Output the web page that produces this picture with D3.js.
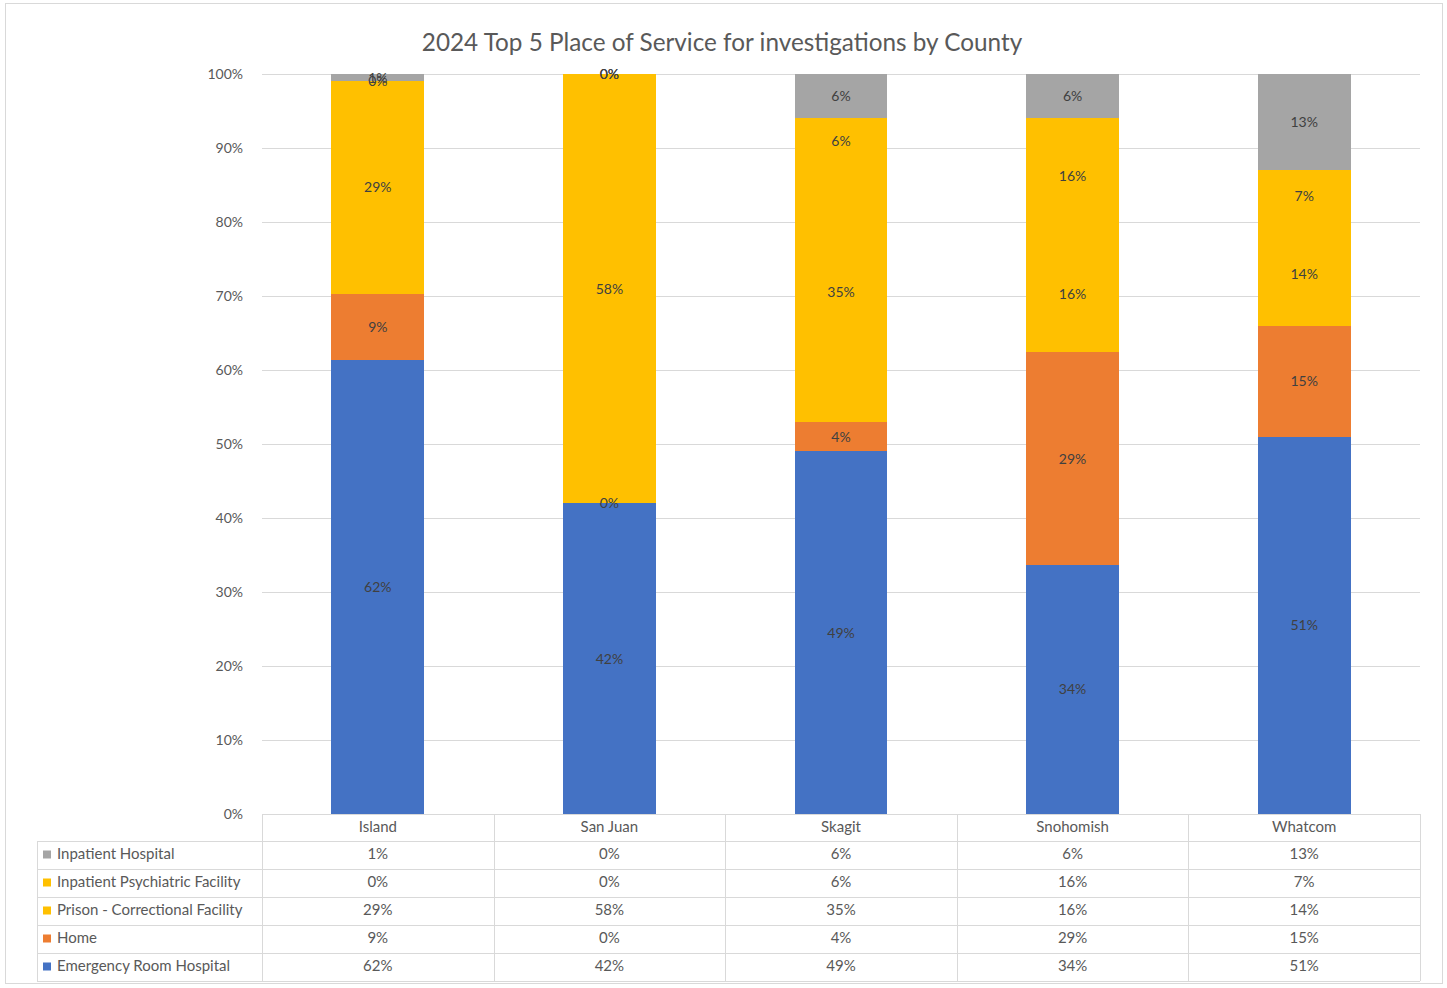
<!DOCTYPE html>
<html>
<head>
<meta charset="utf-8">
<script src="https://cdn.jsdelivr.net/npm/d3@7/dist/d3.min.js"></script>
<style>
  html, body { margin: 0; padding: 0; background: #ffffff; }
  svg { display: block; font-family: Lato, "Open Sans", sans-serif; }
</style>
</head>
<body>
<svg id="chart" width="1447" height="988"></svg>
<script>
// Counties along the x axis
const counties = ["Island", "San Juan", "Skagit", "Snohomish", "Whatcom"];

// Share of investigations (%) for each place of service, per county
const emergencyRoom   = [62, 42, 49, 34, 51];
const home            = [9, 0, 4, 29, 15];
const prison          = [29, 58, 35, 16, 14];
const psychFacility   = [0, 0, 6, 16, 7];
const inpatientHosp   = [1, 0, 6, 6, 13];

// Series, bottom of the stack first
const seriesNames = [
  "Emergency Room Hospital",
  "Home",
  "Prison - Correctional Facility",
  "Inpatient Psychiatric Facility",
  "Inpatient Hospital"
];
const seriesValues = [emergencyRoom, home, prison, psychFacility, inpatientHosp];
const seriesColors = ["#4472C4", "#ED7D31", "#FFC000", "#FFC000", "#A5A5A5"];

const yTicks = [0, 0.1, 0.2, 0.3, 0.4, 0.5, 0.6, 0.7, 0.8, 0.9, 1.0];

const chartTitle = "2024 Top 5 Place of Service for investigations by County";

// ---- layout ----
const svg = d3.select("#chart");
const plotLeft = 262, plotRight = 1420, plotTop = 74, plotBottom = 814;
const tableLeft = 37, rowH = 28, headerH = 27;

// outer chart frame
svg.append("rect")
  .attr("x", 5.5).attr("y", 3.5).attr("width", 1437).attr("height", 980)
  .attr("fill", "#fff").attr("stroke", "#d9d9d9").attr("stroke-width", 1);

svg.append("text")
  .attr("x", 722).attr("y", 51)
  .attr("text-anchor", "middle")
  .attr("font-size", 24.3)
  .attr("fill", "#595959")
  .text(chartTitle);

// build rows for the stack
const rows = counties.map((c, i) => {
  const r = { county: c };
  seriesNames.forEach((s, k) => { r[s] = seriesValues[k][i]; });
  return r;
});

const stack = d3.stack().keys(seriesNames).offset(d3.stackOffsetExpand);
const layers = stack(rows);

const x = d3.scaleBand().domain(counties).range([plotLeft, plotRight]).paddingInner(0.6).paddingOuter(0.3);
const y = d3.scaleLinear().domain([0, 1]).range([plotBottom, plotTop]);

// gridlines + tick labels
const yAxis = d3.axisLeft(y).tickValues(yTicks).tickFormat(d3.format(".0%"))
  .tickSize(-(plotRight - plotLeft)).tickPadding(19);
const gy = svg.append("g").attr("transform", `translate(${plotLeft},0)`).call(yAxis);
gy.select(".domain").remove();
gy.selectAll(".tick line").attr("stroke", "#d9d9d9").attr("stroke-width", 1);
gy.selectAll(".tick text").attr("fill", "#595959").attr("font-size", 14)
  .attr("font-family", "Lato, 'Open Sans', sans-serif");

// bars
const gLayers = svg.append("g").attr("shape-rendering", "crispEdges")
  .selectAll("g").data(layers).join("g")
  .attr("fill", (d, i) => seriesColors[i]);
gLayers.selectAll("rect").data(d => d).join("rect")
  .attr("x", d => x(d.data.county))
  .attr("width", x.bandwidth())
  .attr("y", d => y(d[1]))
  .attr("height", d => y(d[0]) - y(d[1]));

// data labels at segment centres
const gLabels = svg.append("g").selectAll("g").data(layers).join("g");
gLabels.selectAll("text").data(d => d.map(p => ({ p, key: d.key }))).join("text")
  .attr("x", d => x(d.p.data.county) + x.bandwidth() / 2)
  .attr("y", d => y((d.p[0] + d.p[1]) / 2))
  .attr("dy", "0.35em")
  .attr("text-anchor", "middle")
  .attr("font-size", 14)
  .attr("fill", "#404040")
  .text(d => d.p.data[d.key] + "%");

// ---- data table ----
const colW = (plotRight - plotLeft) / counties.length;
const tableTop = plotBottom + headerH;
const tableRows = seriesNames.slice().reverse();
const gridColor = "#d9d9d9";
const tg = svg.append("g").attr("stroke", gridColor).attr("stroke-width", 1).attr("fill", "none");

// horizontal lines
tg.append("line").attr("x1", plotLeft).attr("x2", plotRight).attr("y1", plotBottom + 0.5).attr("y2", plotBottom + 0.5);
for (let r = 0; r <= tableRows.length; r++) {
  const yy = tableTop + r * rowH + 0.5;
  tg.append("line").attr("x1", tableLeft).attr("x2", plotRight).attr("y1", yy).attr("y2", yy);
}
// vertical lines
tg.append("line").attr("x1", tableLeft + 0.5).attr("x2", tableLeft + 0.5)
  .attr("y1", tableTop).attr("y2", tableTop + tableRows.length * rowH);
for (let c = 0; c <= counties.length; c++) {
  const xx = Math.round(plotLeft + c * colW) + 0.5;
  tg.append("line").attr("x1", xx).attr("x2", xx)
    .attr("y1", plotBottom).attr("y2", tableTop + tableRows.length * rowH);
}

// header: county names
svg.append("g").selectAll("text").data(counties).join("text")
  .attr("x", d => x(d) + x.bandwidth() / 2)
  .attr("y", plotBottom + headerH / 2 - 1)
  .attr("dy", "0.35em")
  .attr("text-anchor", "middle")
  .attr("font-size", 15)
  .attr("fill", "#595959")
  .text(d => d);

// rows: legend key + name + values
tableRows.forEach((name, r) => {
  const k = seriesNames.indexOf(name);
  const cy = tableTop + r * rowH + rowH / 2 - 1;
  svg.append("rect").attr("x", 43).attr("y", cy - 3.5).attr("width", 8).attr("height", 8)
    .attr("fill", seriesColors[k]);
  svg.append("text").attr("x", 57).attr("y", cy).attr("dy", "0.35em")
    .attr("font-size", 15).attr("fill", "#595959").text(name);
  svg.append("g").selectAll("text").data(seriesValues[k]).join("text")
    .attr("x", (d, i) => x(counties[i]) + x.bandwidth() / 2)
    .attr("y", cy).attr("dy", "0.35em")
    .attr("text-anchor", "middle")
    .attr("font-size", 15).attr("fill", "#595959")
    .text(d => d + "%");
});
</script>
</body>
</html>
